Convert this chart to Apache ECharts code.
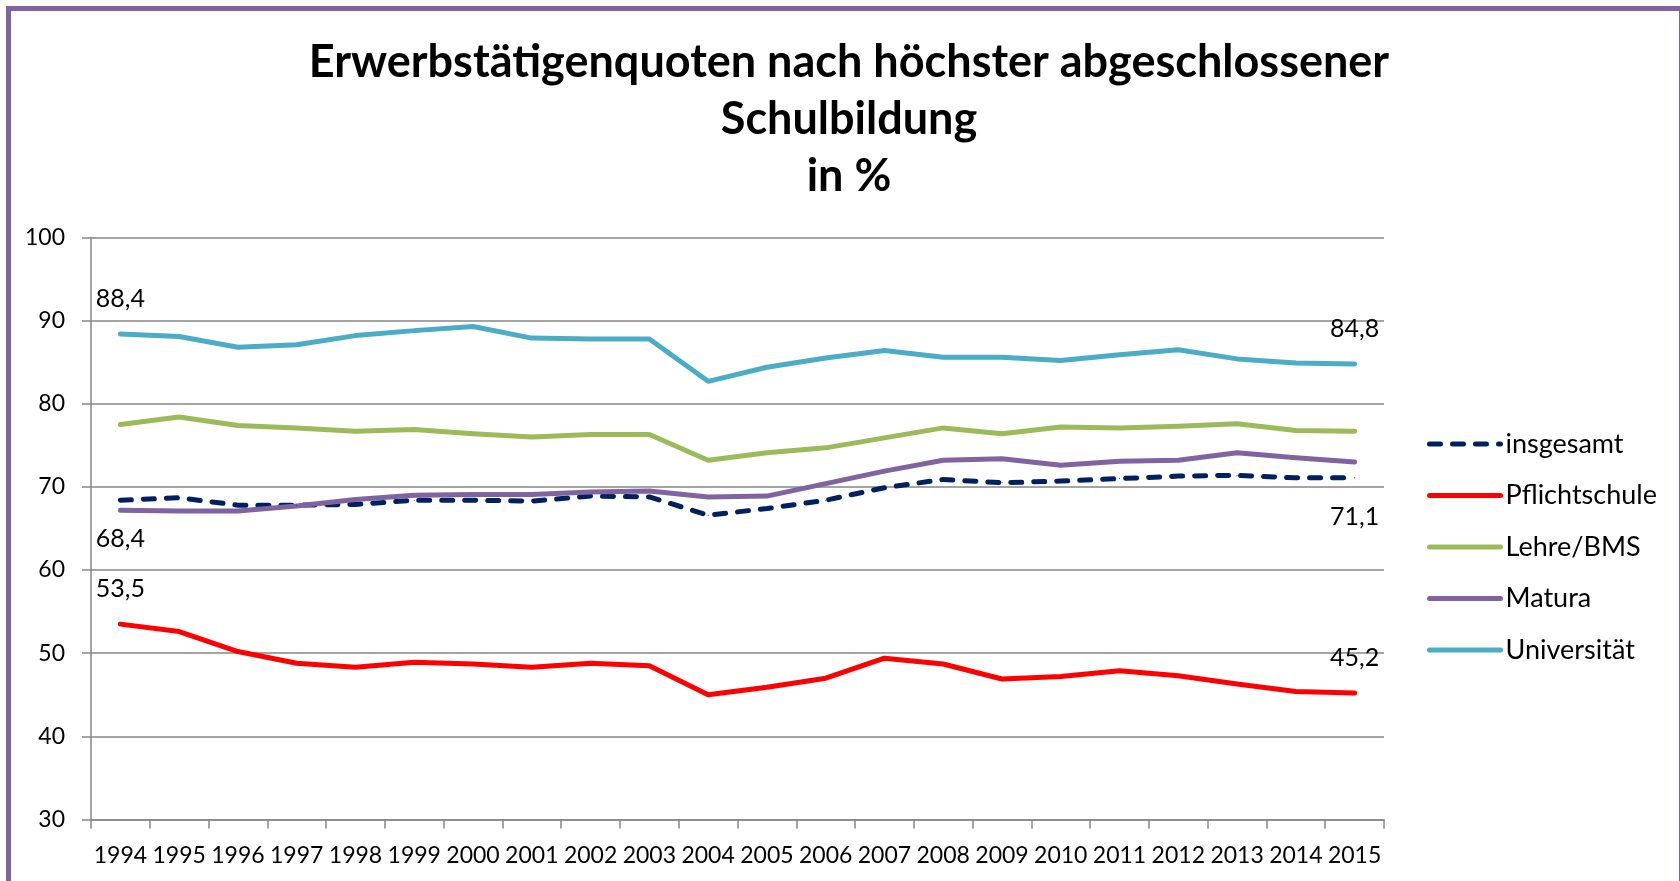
<!DOCTYPE html>
<html>
<head>
<meta charset="utf-8">
<script src="https://cdn.jsdelivr.net/npm/echarts@6/dist/echarts.min.js"></script>
<style>
  html, body { margin: 0; padding: 0; background: #fff; }
  #main { width: 1680px; height: 881px; }
</style>
</head>
<body>
<div id="main"></div>
<script>
const years = ["1994", "1995", "1996", "1997", "1998", "1999", "2000", "2001", "2002", "2003", "2004",
  "2005", "2006", "2007", "2008", "2009", "2010", "2011", "2012", "2013", "2014", "2015"];

const insgesamt = [68.4, 68.7, 67.8, 67.8, 67.9, 68.4, 68.4, 68.3, 68.9, 68.8, 66.6,
  67.4, 68.4, 69.9, 70.9, 70.5, 70.7, 71.0, 71.3, 71.4, 71.1, 71.1];
const pflichtschule = [53.5, 52.6, 50.2, 48.8, 48.3, 48.9, 48.7, 48.3, 48.8, 48.5, 45.0,
  45.9, 47.0, 49.4, 48.7, 46.9, 47.2, 47.9, 47.3, 46.3, 45.4, 45.2];
const lehreBms = [77.5, 78.4, 77.4, 77.1, 76.7, 76.9, 76.4, 76.0, 76.3, 76.3, 73.2,
  74.1, 74.7, 75.9, 77.1, 76.4, 77.2, 77.1, 77.3, 77.6, 76.8, 76.7];
const matura = [67.2, 67.1, 67.1, 67.7, 68.5, 69.0, 69.1, 69.1, 69.4, 69.5, 68.8,
  68.9, 70.4, 71.9, 73.2, 73.4, 72.6, 73.1, 73.2, 74.1, 73.5, 73.0];
const universitaet = [88.4, 88.1, 86.8, 87.1, 88.2, 88.8, 89.3, 87.9, 87.8, 87.8, 82.7,
  84.4, 85.5, 86.4, 85.6, 85.6, 85.2, 85.9, 86.5, 85.4, 84.9, 84.8];

const yTicks = { min: 30, max: 100, interval: 10 };

const FONT = "Lato";
const chart = echarts.init(document.getElementById("main"));

// label only on first and last point
function endLabel(position, distance) {
  return {
    show: true,
    position: position,
    distance: distance,
    color: "#000",
    fontFamily: FONT,
    fontSize: 25,
    formatter: (p) => (p.dataIndex === 0 || p.dataIndex === years.length - 1)
      ? p.value.toFixed(1).replace(".", ",") : ""
  };
}

function makeSeries(name, data, color, dashed, label) {
  const s = {
    name: name,
    type: "line",
    data: data,
    symbol: "circle",
    symbolSize: 1,
    itemStyle: { color: color },
    lineStyle: { color: color, width: 5, cap: "round", join: "round" },
    emphasis: { disabled: true },
    z: 3
  };
  if (dashed) {
    s.lineStyle.type = [11, 12];
  }
  if (label) s.label = label;
  return s;
}

const option = {
  animation: false,
  title: {
    text: "Erwerbstätigenquoten nach höchster abgeschlossener\nSchulbildung\nin %",
    left: 844,
    top: 29,
    textAlign: "center",
    textStyle: {
      fontFamily: FONT,
      fontWeight: "bold",
      fontSize: 45,
      lineHeight: 57,
      color: "#000"
    }
  },
  graphic: [{
    type: "rect",
    shape: { x: 8.5, y: 8.5, width: 1673, height: 900 },
    style: { fill: null, stroke: "#8064A2", lineWidth: 5 },
    silent: true
  }],
  legend: {
    orient: "vertical",
    left: 1427,
    top: 429,
    padding: 0,
    itemWidth: 71,
    itemHeight: 14,
    itemGap: 21.5,
    itemStyle: { opacity: 0 },
    lineStyle: { width: 5, cap: "round" },
    data: ["insgesamt", "Pflichtschule", "Lehre/BMS", "Matura", "Universität"],
    textStyle: { fontFamily: FONT, fontSize: 27, lineHeight: 30, color: "#000" }
  },
  grid: { left: 91, right: 296, top: 237.5, bottom: 61.5, containLabel: false },
  xAxis: {
    type: "category",
    data: years,
    boundaryGap: true,
    axisLine: { lineStyle: { color: "#868686", width: 1.5 } },
    axisTick: { show: true, length: 9, interval: 0, lineStyle: { color: "#868686", width: 1.5 } },
    axisLabel: { interval: 0, margin: 25, color: "#000", fontFamily: FONT, fontSize: 23 }
  },
  yAxis: {
    type: "value",
    min: yTicks.min,
    max: yTicks.max,
    interval: yTicks.interval,
    axisLine: { show: true, lineStyle: { color: "#868686", width: 1.5 } },
    axisTick: { show: true, length: 9, lineStyle: { color: "#868686", width: 1.5 } },
    axisLabel: { margin: 26, color: "#000", fontFamily: FONT, fontSize: 23 },
    splitLine: { lineStyle: { color: "#868686", width: 1.5 } }
  },
  series: [
    makeSeries("insgesamt", insgesamt, "#002060", true, endLabel("bottom", 26)),
    makeSeries("Pflichtschule", pflichtschule, "#FF0000", false, endLabel("top", 22)),
    makeSeries("Lehre/BMS", lehreBms, "#9BBB59", false, null),
    makeSeries("Matura", matura, "#8064A2", false, null),
    makeSeries("Universität", universitaet, "#4BACC6", false, endLabel("top", 22))
  ]
};

chart.setOption(option);
</script>
</body>
</html>
